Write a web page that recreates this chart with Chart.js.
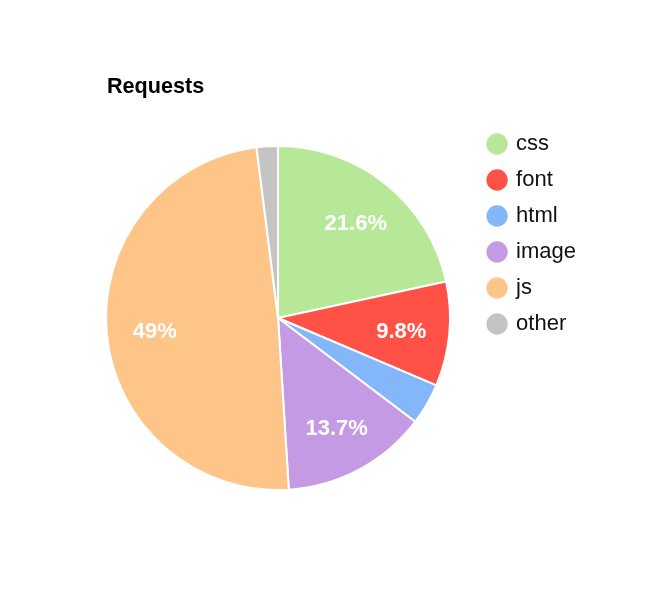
<!DOCTYPE html>
<html>
<head>
<meta charset="utf-8">
<script src="https://cdn.jsdelivr.net/npm/chart.js@4"></script>
<style>
  html, body { margin: 0; padding: 0; background: #fff; }
  #wrap { position: relative; width: 662px; height: 596px; }
  #title {
    position: absolute; left: 107px; top: 74px;
    font: bold 21.6px "Liberation Sans", Arial, sans-serif; line-height: 24px; color: #000;
  }
</style>
</head>
<body>
<div id="wrap">
  <canvas id="requestsChart" width="662" height="596"></canvas>
  <div id="title">Requests</div>
</div>
<script>
const categories = ["css", "font", "html", "image", "js", "other"];
const requestShares = [21.6, 9.8, 3.9, 13.7, 49, 2.0];
const sliceColors = ["#b6e898", "#ff5145", "#84b6fa", "#c49ae5", "#fdc588", "#c4c4c4"];

// percent labels inside the bigger slices
const sliceLabels = {
    id: "sliceLabels",
    afterDatasetsDraw(chart) {
        const ctx = chart.ctx;
        const meta = chart.getDatasetMeta(0);
        ctx.save();
        ctx.fillStyle = "#fff";
        ctx.font = "bold 22px 'Liberation Sans', Arial, sans-serif";
        ctx.textAlign = "center";
        ctx.textBaseline = "middle";
        meta.data.forEach((arc, i) => {
            const v = requestShares[i];
            if (v < 5) return;
            const p = arc.getProps(["x", "y", "startAngle", "endAngle", "outerRadius"], true);
            const mid = (p.startAngle + p.endAngle) / 2;
            const r = p.outerRadius * 0.72;
            ctx.fillText(v + "%", p.x + Math.cos(mid) * r, p.y + Math.sin(mid) * r + 2);
        });
        ctx.restore();
    }
};

new Chart(document.getElementById("requestsChart"), {
    type: "pie",
    data: {
        labels: categories,
        datasets: [{
            data: requestShares,
            backgroundColor: sliceColors,
            borderColor: "#fff",
            borderWidth: 2,
            radius: 172
        }]
    },
    options: {
        responsive: false,
        animation: false,
        layout: { padding: { left: 81, top: 119, bottom: 79, right: 76 } },
        plugins: {
            tooltip: { enabled: false },
            legend: {
                position: "right",
                align: "start",
                labels: {
                    usePointStyle: true,
                    pointStyle: "circle",
                    boxWidth: 16,
                    boxHeight: 16.5,
                    padding: 14,
                    color: "#111",
                    font: { family: "'Liberation Sans', Arial, sans-serif", size: 22 }
                }
            }
        }
    },
    plugins: [sliceLabels]
});
</script>
</body>
</html>
